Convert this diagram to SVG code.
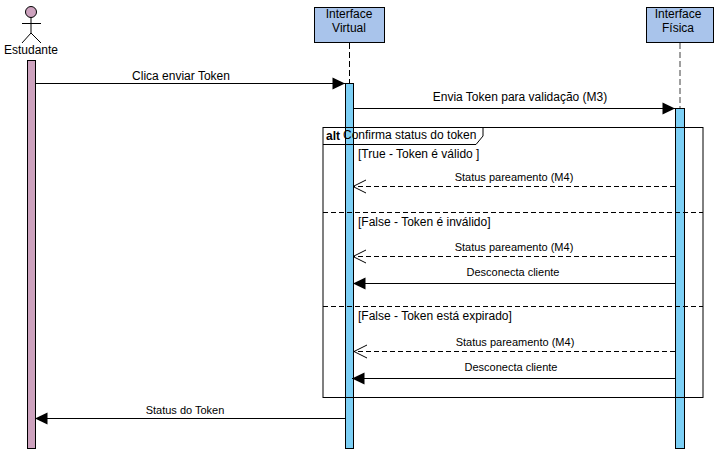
<svg xmlns="http://www.w3.org/2000/svg" width="721" height="456" viewBox="0 0 721 456">
<style>
text{font-family:"Liberation Sans",Arial,sans-serif;font-size:12px;fill:#000;text-anchor:middle}
.s{font-size:11px}
.l{text-anchor:start}
.box{fill:#a9c4eb;stroke:#000;stroke-width:1}
.bar{fill:#7ccff5;stroke:#000;stroke-width:1}
.msg{fill:none;stroke:#000;stroke-width:1}
.dash{stroke-dasharray:5 3}
</style>
<defs>
<marker id="solid" markerUnits="userSpaceOnUse" markerWidth="14" markerHeight="14" refX="13" refY="7" orient="auto"><path d="M0.5 1 L13 7 L0.5 13 Z" fill="#000"/></marker>
<marker id="open" markerUnits="userSpaceOnUse" markerWidth="15" markerHeight="16" refX="14" refY="8" orient="auto"><path d="M1 1.500 L14 8 L1 14.500" fill="none" stroke="#000"/></marker>
</defs>
<rect width="721" height="456" fill="#fff"/>
<g id="estudante">
<circle cx="31" cy="12" r="5.500" fill="#cda2be" stroke="#000"/>
<path d="M31 17.500V33M22 23.500H41M31 33L22 43M31 33L41 43" fill="none" stroke="#000"/>
<text x="31" y="54">Estudante</text>
<rect x="27.500" y="60.500" width="8" height="388" fill="#cda2be" stroke="#000"/>
</g>
<g id="interface-virtual">
<rect class="box" x="314.500" y="7.500" width="70" height="35"/>
<text x="349" y="18">Interface</text>
<text x="349" y="32">Virtual</text>
<path d="M349.500 43V83" fill="none" stroke="#000" stroke-dasharray="6 3"/>
<rect class="bar" x="345.500" y="83.500" width="8" height="365"/>
</g>
<g id="interface-fisica">
<rect class="box" x="646.500" y="7.500" width="67" height="35"/>
<text x="678" y="18">Interface</text>
<text x="678" y="32">Física</text>
<path d="M680 43V108" fill="none" stroke="#808080" stroke-width="1.500" stroke-dasharray="6 3"/>
<rect class="bar" x="675.500" y="108.500" width="9" height="340"/>
</g>
<g id="alt-frame">
<rect x="323" y="127.500" width="380" height="270" fill="none" stroke="#000" stroke-width="1"/>
<path d="M323 144.500H476L483 136V127.500" fill="none" stroke="#000"/>
<path d="M323 212.500H703M323 306.500H703" fill="none" stroke="#000" stroke-dasharray="5 3"/>
<text class="l" x="326" y="140" style="font-weight:bold">alt</text>
<text class="l" x="343" y="139">Confirma status do token</text>
<text class="l" x="358" y="158">[True - Token é válido ]</text>
<text class="l" x="358" y="226">[False - Token é inválido]</text>
<text class="l" x="358" y="320">[False - Token está expirado]</text>
</g>
<g id="connectors">
<path class="msg" d="M36 83.500H345" marker-end="url(#solid)"/>
<path class="msg" d="M353 108.500H675" marker-end="url(#solid)"/>
<path class="msg dash" d="M675 186.500H353" marker-end="url(#open)"/>
<path class="msg dash" d="M675 256.500H353" marker-end="url(#open)"/>
<path class="msg" d="M675 283.500H353" marker-end="url(#solid)"/>
<path class="msg dash" d="M675 351.500H354" marker-end="url(#open)"/>
<path class="msg" d="M675 378.500H352" marker-end="url(#solid)"/>
<path class="msg" d="M345 418.500H35" marker-end="url(#solid)"/>
<text x="181" y="80">Clica enviar Token</text>
<text x="520" y="101">Envia Token para validação (M3)</text>
<text class="s" x="514" y="181">Status pareamento (M4)</text>
<text class="s" x="514" y="251">Status pareamento (M4)</text>
<text class="s" x="513" y="276">Desconecta cliente</text>
<text class="s" x="515" y="346">Status pareamento (M4)</text>
<text class="s" x="511" y="371">Desconecta cliente</text>
<text class="s" x="185" y="414">Status do Token</text>
</g>
</svg>
